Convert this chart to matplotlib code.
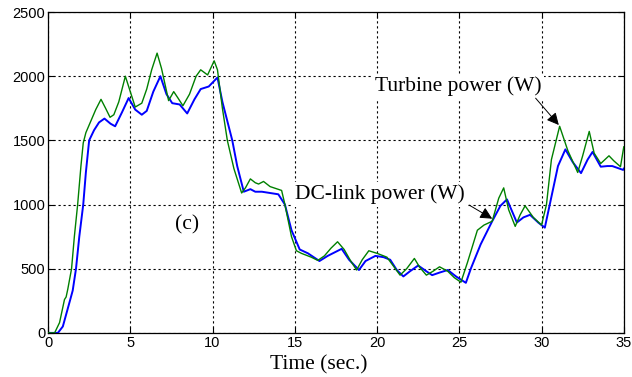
import numpy as np
import matplotlib.pyplot as plt

# turbine power (green)
t_turb = [0, 0.4, 0.7, 1.0, 1.1, 1.2, 1.43, 1.6, 1.8, 2.0, 2.14, 2.3, 2.6, 2.9, 3.22, 3.5, 3.77,
          4.0, 4.3, 4.7, 5.0, 5.3, 5.7, 6.0, 6.3, 6.63, 6.9, 7.33, 7.64, 7.9, 8.2, 8.6, 9.0,
          9.28, 9.7, 10.1, 10.3, 10.6, 10.9, 11.3, 11.77, 12.0, 12.3, 12.6, 12.8, 13.1, 13.5,
          14.2, 14.4, 14.8, 15.1, 15.4, 16.0, 16.4, 16.8, 17.2, 17.6, 18.0, 18.4, 18.76, 19.1,
          19.5, 20.0, 20.6, 21.0, 21.4, 21.8, 22.27, 22.6, 23.0, 23.4, 23.8, 24.3, 24.7, 25.1,
          25.5, 26.1, 26.5, 27.0, 27.4, 27.7, 28.0, 28.4, 28.7, 29.0, 29.5, 30.0, 30.3, 30.6,
          31.1, 31.6, 32.2, 32.5, 32.9, 33.2, 33.6, 34.1, 34.4, 34.8, 35.0]
p_turb = [0, 0, 80, 260, 280, 340, 500, 750, 1000, 1300, 1480, 1560, 1650, 1740, 1820, 1750, 1680,
          1700, 1800, 2000, 1880, 1760, 1790, 1900, 2050, 2180, 2060, 1810, 1880, 1830, 1770, 1860, 2000,
          2050, 2010, 2120, 2050, 1750, 1500, 1280, 1090, 1130, 1200, 1170, 1160, 1180, 1140,
          1110, 1000, 750, 640, 620, 590, 565, 600, 660, 710, 650, 560, 490, 570,
          640, 620, 590, 520, 450, 500, 580, 510, 450, 480, 515, 480, 430, 395,
          550, 800, 840, 870, 1050, 1130, 960, 830, 920, 990, 900, 840, 1000, 1350,
          1610, 1420, 1250, 1380, 1570, 1400, 1320, 1380, 1340, 1295, 1450]

# DC-link power (blue)
t_dc = [0, 0.6, 0.9, 1.33, 1.5, 1.7, 1.9, 2.14, 2.3, 2.5, 2.8, 3.1, 3.43, 3.8, 4.08, 4.5, 4.9,
        5.3, 5.7, 6.0, 6.4, 6.83, 7.2, 7.55, 8.0, 8.46, 8.9, 9.28, 9.77, 10.3, 10.6, 11.2, 11.5,
        11.9, 12.3, 12.6, 13.0, 13.5, 14.0, 14.4, 14.8, 15.3, 15.8, 16.5, 17.0, 17.85, 18.3,
        18.9, 19.3, 19.9, 20.4, 20.8, 21.2, 21.6, 22.0, 22.5, 23.0, 23.35, 23.8, 24.3, 24.8,
        25.4, 25.7, 26.3, 27.0, 27.5, 27.9, 28.5, 28.9, 29.3, 29.8, 30.2, 30.5, 31.0, 31.45,
        31.9, 32.4, 32.8, 33.1, 33.6, 34.0, 34.3, 34.96, 35.0]
p_dc = [0, 0, 50, 250, 330, 500, 750, 1000, 1250, 1500, 1580, 1640, 1670, 1630, 1610, 1720, 1830,
        1740, 1700, 1730, 1880, 2000, 1860, 1790, 1780, 1710, 1820, 1900, 1920, 1990, 1800, 1500, 1300,
        1100, 1120, 1100, 1100, 1090, 1080, 1000, 800, 650, 620, 560, 600, 655, 570,
        490, 560, 600, 590, 570, 490, 440, 480, 525, 480, 450, 470, 490, 440,
        390, 500, 690, 870, 990, 1040, 860, 900, 920, 860, 820, 1000, 1300, 1430,
        1330, 1245, 1350, 1410, 1295, 1300, 1300, 1270, 1280]

x_ticks = [0, 5, 10, 15, 20, 25, 30, 35]
y_ticks = [0, 500, 1000, 1500, 2000, 2500]

fig = plt.figure(figsize=(6.32, 3.77), dpi=100)
ax = fig.add_axes([0.076, 0.117, 0.911, 0.851])

ax.plot(t_turb, p_turb, color='#008000', lw=1.0, zorder=3)
ax.plot(t_dc, p_dc, color='#0000ff', lw=1.4, zorder=2)

ax.set_xlim(0, 35)
ax.set_ylim(0, 2500)
ax.set_xticks(x_ticks)
ax.set_yticks(y_ticks)
ax.grid(True, color='black', linestyle=(0, (2, 2.5)), lw=0.8)
ax.set_axisbelow(True)
ax.tick_params(direction='in', length=4, top=True, right=True, labelsize=10.5, pad=2)
for lab in ax.get_xticklabels() + ax.get_yticklabels():
    lab.set_fontfamily('Liberation Sans')
for s in ax.spines.values():
    s.set_linewidth(0.9)

serif = 'Liberation Serif'
fs = 15.5
box = dict(facecolor='white', edgecolor='none', pad=2)

ax.text(24.93, 1922, 'Turbine power (W)', family=serif, fontsize=fs,
        ha='center', va='center', bbox=box, zorder=4)
ax.text(20.2, 1080, 'DC-link power (W)', family=serif, fontsize=fs,
        ha='center', va='center', bbox=box, zorder=4)
ax.text(8.48, 840, '(c)', family=serif, fontsize=fs,
        ha='center', va='center', bbox=dict(facecolor='white', edgecolor='none', pad=6), zorder=4)

arrow = dict(arrowstyle='-|>', color='black', lw=0.7, shrinkA=0, shrinkB=0, mutation_scale=18)
ax.annotate('', xy=(31.05, 1620), xytext=(29.64, 1829), arrowprops=arrow, zorder=5)
ax.annotate('', xy=(27.0, 890), xytext=(25.6, 996), arrowprops=arrow, zorder=5)

ax.set_xlabel('Time (sec.)', family=serif, fontsize=fs, labelpad=0)
ax.xaxis.set_label_coords(0.47, -0.07)

fig.savefig('out.png', dpi=100)
